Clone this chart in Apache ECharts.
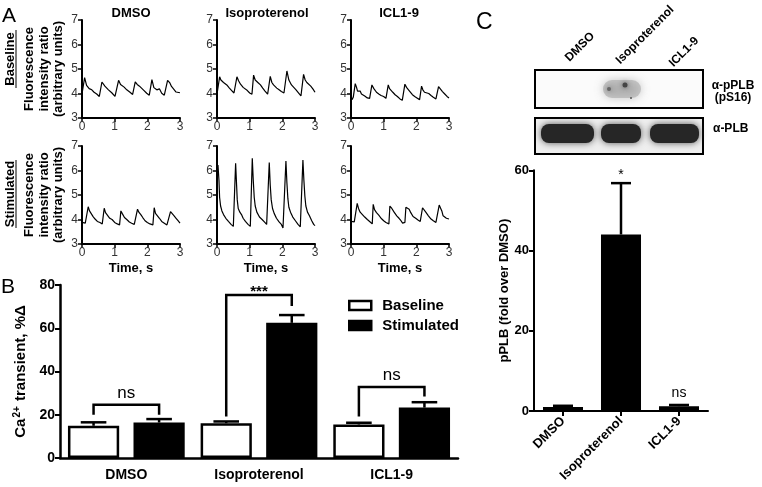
<!DOCTYPE html>
<html><head><meta charset="utf-8">
<script src="https://cdn.jsdelivr.net/npm/echarts@6/dist/echarts.min.js"></script>
<style>html,body{margin:0;padding:0;background:#fff}#c{width:762px;height:487px}</style>
</head><body><div id="c"></div>
<script>
// ---------- Panel A data: [time (s), fluorescence ratio] ----------
const traceTitles = ['DMSO', 'Isoproterenol', 'ICL1-9'];
const rowLabels = ['Baseline', 'Stimulated'];
const dmsoBaseline = [[0,3.98],[0.02,3.97],[0.08,4.65],[0.14,4.33],[0.22,4.2],[0.3,4.15],[0.37,4.05],[0.45,3.98],[0.53,3.88],[0.57,3.85],[0.61,4.47],[0.7,4.3],[0.81,4.15],[0.91,4.03],[1.01,3.88],[1.06,3.82],[1.12,4.54],[1.18,4.37],[1.29,4.26],[1.37,4.15],[1.47,4.05],[1.55,3.96],[1.59,3.92],[1.63,4.47],[1.69,4.37],[1.76,4.3],[1.82,4.32],[1.9,4.12],[1.98,4.01],[2.06,3.93],[2.1,3.92],[2.14,4.57],[2.2,4.24],[2.29,4.15],[2.37,4.19],[2.44,4.01],[2.52,3.93],[2.57,3.89],[2.62,4.54],[2.69,4.43],[2.74,4.29],[2.8,4.24],[2.88,4.06],[3.0,4.03]];
const isoBaseline = [[0,3.97],[0.04,3.95],[0.08,4.68],[0.12,4.55],[0.2,4.45],[0.3,4.35],[0.38,4.22],[0.45,4.12],[0.52,4.02],[0.57,3.98],[0.61,4.68],[0.66,4.52],[0.72,4.38],[0.8,4.25],[0.86,4.2],[0.93,4.12],[1.0,4.02],[1.07,3.97],[1.12,4.75],[1.17,4.55],[1.25,4.45],[1.33,4.35],[1.4,4.22],[1.47,4.1],[1.55,3.97],[1.6,3.95],[1.63,4.7],[1.68,4.45],[1.73,4.35],[1.77,4.4],[1.83,4.22],[1.9,4.15],[1.97,4.08],[2.05,4.02],[2.1,3.98],[2.14,4.92],[2.2,4.55],[2.28,4.35],[2.35,4.25],[2.42,4.15],[2.5,4.02],[2.57,3.9],[2.61,3.85],[2.65,4.78],[2.7,4.55],[2.75,4.45],[2.8,4.42],[2.87,4.3],[2.94,4.18],[3.0,4.05]];
const iclBaseline = [[0,3.95],[0.03,3.75],[0.07,3.85],[0.13,4.4],[0.17,4.25],[0.2,4.1],[0.24,4.05],[0.28,4.1],[0.32,3.98],[0.37,4.02],[0.42,3.9],[0.5,3.82],[0.57,3.8],[0.6,3.82],[0.64,4.35],[0.7,4.2],[0.78,4.05],[0.85,3.98],[0.92,3.92],[1.0,3.88],[1.07,3.8],[1.1,3.82],[1.14,4.35],[1.18,4.2],[1.22,4.22],[1.28,4.05],[1.35,3.95],[1.42,3.88],[1.5,3.78],[1.57,3.72],[1.61,3.75],[1.65,4.38],[1.7,4.25],[1.76,4.15],[1.82,4.08],[1.88,3.95],[1.95,3.88],[2.02,3.82],[2.1,3.75],[2.13,3.8],[2.16,4.3],[2.2,4.15],[2.25,4.05],[2.3,4.08],[2.38,4.0],[2.45,3.92],[2.52,3.85],[2.6,3.78],[2.64,3.8],[2.68,4.28],[2.73,4.2],[2.8,4.08],[2.87,3.98],[2.94,3.88],[3.0,3.82]];
const dmsoStim = [[0,3.88],[0.05,3.82],[0.1,3.85],[0.16,3.9],[0.19,4.52],[0.23,4.35],[0.28,4.28],[0.34,4.12],[0.4,4.02],[0.47,3.92],[0.55,3.88],[0.62,3.82],[0.65,3.8],[0.68,4.46],[0.72,4.28],[0.78,4.2],[0.85,4.05],[0.92,4.0],[1.0,3.88],[1.08,3.82],[1.15,3.78],[1.19,4.35],[1.23,4.25],[1.3,4.08],[1.37,4.0],[1.45,3.9],[1.52,3.85],[1.6,3.8],[1.66,3.78],[1.7,4.42],[1.74,4.3],[1.8,4.2],[1.86,4.08],[1.93,3.95],[2.0,3.88],[2.08,3.82],[2.14,3.75],[2.17,3.78],[2.21,4.48],[2.25,4.25],[2.3,4.2],[2.37,4.05],[2.44,3.92],[2.52,3.85],[2.6,3.78],[2.66,3.75],[2.71,4.32],[2.76,4.25],[2.82,4.15],[2.88,4.05],[2.94,3.95],[3.0,3.85]];
const isoStim = [[0,5.9],[0.03,6.22],[0.06,5.6],[0.08,4.9],[0.11,4.55],[0.15,4.35],[0.2,4.2],[0.27,4.05],[0.35,3.92],[0.43,3.8],[0.5,3.72],[0.54,3.72],[0.57,6.29],[0.6,5.4],[0.62,4.8],[0.65,4.45],[0.7,4.3],[0.75,4.2],[0.8,4.05],[0.87,3.92],[0.95,3.8],[1.02,3.72],[1.05,3.72],[1.08,6.5],[1.11,5.6],[1.14,4.9],[1.17,4.55],[1.22,4.3],[1.3,4.1],[1.38,4.0],[1.45,3.9],[1.52,3.8],[1.57,3.75],[1.6,6.33],[1.63,5.4],[1.66,4.8],[1.7,4.45],[1.75,4.25],[1.82,4.05],[1.9,3.9],[1.97,3.8],[2.02,3.65],[2.06,3.6],[2.08,3.68],[2.11,6.39],[2.14,5.5],[2.17,4.85],[2.2,4.5],[2.25,4.3],[2.32,4.1],[2.4,3.95],[2.48,3.8],[2.55,3.7],[2.6,3.68],[2.63,6.43],[2.66,5.6],[2.69,4.95],[2.72,4.55],[2.77,4.3],[2.83,4.15],[2.9,3.95],[2.96,3.8],[3.0,3.75]];
const iclStim = [[0,3.92],[0.05,3.88],[0.1,3.9],[0.15,3.92],[0.19,4.66],[0.23,4.45],[0.28,4.3],[0.35,4.2],[0.42,4.1],[0.5,4.0],[0.57,3.92],[0.62,3.85],[0.65,3.82],[0.68,4.62],[0.72,4.4],[0.78,4.28],[0.85,4.18],[0.92,4.05],[1.0,3.95],[1.07,3.88],[1.13,3.8],[1.16,3.82],[1.19,4.55],[1.25,4.45],[1.32,4.3],[1.4,4.15],[1.47,4.05],[1.53,3.95],[1.58,3.85],[1.62,3.82],[1.65,3.88],[1.68,4.5],[1.73,4.5],[1.78,4.42],[1.83,4.28],[1.9,4.12],[1.98,4.05],[2.05,3.98],[2.12,3.92],[2.16,3.9],[2.19,4.48],[2.24,4.4],[2.3,4.28],[2.37,4.15],[2.45,4.02],[2.52,3.95],[2.6,3.88],[2.66,3.86],[2.7,4.59],[2.74,4.52],[2.78,4.35],[2.82,4.15],[2.86,4.12],[2.92,4.05],[3.0,4.02]];

// ---------- Panel B data ----------
const groups = ['DMSO', 'Isoproterenol', 'ICL1-9'];
const baselineMean = [14.9, 16.1, 15.5];
const baselineErr = [1.6, 0.8, 0.8];
const stimMean = [16.4, 62.5, 23.3];
const stimErr = [1.6, 3.6, 2.5];
// [group, left leg bottom, right leg bottom, bracket top]
const brackets = [[0, 20, 20, 24.6], [1, 19.2, 70.3, 75.4], [2, 19.2, 28.4, 32.8]];
const bracketLabels = ['ns', '***', 'ns'];

// ---------- Panel C data ----------
const blotLanes = ['DMSO', 'Isoproterenol', 'ICL1-9'];
const blotRows = ['α-pPLB\n(pS16)', 'α-PLB'];
const pplbMean = [1.0, 44.0, 1.2];
const pplbErr = [0.3, 12.8, 0.3];
const pplbLabels = ['', '*', 'ns'];

const FONT = '"Liberation Sans", Arial, Helvetica, sans-serif';
const traces = [dmsoBaseline, isoBaseline, iclBaseline, dmsoStim, isoStim, iclStim];
const colLeft = [82, 217, 351], rowTop = [20, 146], P = 98;
const grid = [], xAxis = [], yAxis = [], series = [];

for (let r = 0; r < 2; r++) for (let c = 0; c < 3; c++) {
  const i = r * 3 + c;
  grid.push({left: colLeft[c], top: rowTop[r], width: P, height: P});
  xAxis.push({type: 'value', gridIndex: i, min: 0, max: 3, interval: 1,
    axisLine: {onZero: false, lineStyle: {color: '#000', width: 2}},
    axisTick: {length: 4, lineStyle: {color: '#000', width: 1.5}},
    axisLabel: {fontFamily: FONT, fontSize: 12, color: '#333', margin: 3},
    splitLine: {show: false},
    name: r === 1 ? 'Time, s' : '', nameLocation: 'middle', nameGap: 18,
    nameTextStyle: {fontFamily: FONT, fontSize: 13, fontWeight: 'bold', color: '#000'}});
  yAxis.push({type: 'value', gridIndex: i, min: 3, max: 7, interval: 1,
    axisLine: {show: true, onZero: false, lineStyle: {color: '#000', width: 2}},
    axisTick: {show: true, length: 4, lineStyle: {color: '#000', width: 1.5}},
    axisLabel: {fontFamily: FONT, fontSize: 12, color: '#333', margin: 4},
    splitLine: {show: false},
    name: c === 0 ? 'Fluorescence\nintensity ratio\n(arbitrary units)' : '',
    nameLocation: 'middle', nameRotate: 90, nameGap: 16,
    nameTextStyle: {fontFamily: FONT, fontSize: 13, fontWeight: 'bold', lineHeight: 14.5, color: '#000'}});
  series.push({type: 'line', name: traceTitles[c] + ' ' + rowLabels[r], xAxisIndex: i, yAxisIndex: i,
    data: traces[i], showSymbol: false, silent: true,
    lineStyle: {color: '#000', width: 1.2}});
}

// Panel B
const CG = 0.12, BG = 0.28;
grid.push({left: 60, top: 285, width: 398, height: 173});
xAxis.push({type: 'category', gridIndex: 6, data: groups,
  axisTick: {show: false},
  axisLine: {lineStyle: {color: '#000', width: 2.5}},
  axisLabel: {fontFamily: FONT, fontSize: 14, fontWeight: 'bold', color: '#000', margin: 10}});
yAxis.push({type: 'value', gridIndex: 6, min: 0, max: 80, interval: 20,
  axisLine: {show: true, lineStyle: {color: '#000', width: 2.5}},
  axisTick: {show: true, length: 5, lineStyle: {color: '#000', width: 2}},
  axisLabel: {fontFamily: FONT, fontSize: 14, fontWeight: 'bold', color: '#000', margin: 5},
  splitLine: {show: false},
  name: 'Ca{sup|2+} transient, %Δ', nameLocation: 'middle', nameRotate: 90, nameGap: 29,
  nameTextStyle: {fontFamily: FONT, fontSize: 15, fontWeight: 'bold', color: '#000',
    rich: {sup: {fontFamily: FONT, fontSize: 10, fontWeight: 'bold', color: '#000', padding: [0, 1, 7, 1]}}}});
series.push({type: 'bar', name: 'Baseline', xAxisIndex: 6, yAxisIndex: 6, data: baselineMean,
  barGap: (BG * 100) + '%', barCategoryGap: (CG * 100) + '%',
  itemStyle: {color: '#fff', borderColor: '#000', borderWidth: 2.5}});
series.push({type: 'bar', name: 'Stimulated', xAxisIndex: 6, yAxisIndex: 6, data: stimMean,
  barGap: (BG * 100) + '%', barCategoryGap: (CG * 100) + '%',
  itemStyle: {color: '#000', borderColor: '#000', borderWidth: 2.5}});

const errB = [];
groups.forEach((g, k) => { errB.push([k, 0, baselineMean[k], baselineErr[k]]); errB.push([k, 1, stimMean[k], stimErr[k]]); });
function barOffset(api, g, v, s) {
  const band = api.size([1, 0], [g, v])[0];
  const bw = band * (1 - CG) / (2 + BG);
  return {off: (s === 0 ? -1 : 1) * bw * (1 + BG) / 2, bw: bw};
}
series.push({type: 'custom', name: 'errB', xAxisIndex: 6, yAxisIndex: 6, data: errB, z: 5, silent: true,
  encode: {x: 0, y: 2},
  renderItem: function (params, api) {
    const g = api.value(0), s = api.value(1), m = api.value(2), e = api.value(3);
    const o = barOffset(api, g, m, s);
    const p0 = api.coord([g, m]), p1 = api.coord([g, m + e]);
    const x = p0[0] + o.off, hw = o.bw * 0.25;
    return {type: 'group', children: [
      {type: 'line', shape: {x1: x, y1: p0[1], x2: x, y2: p1[1]}, style: {stroke: '#000', lineWidth: 2.5}},
      {type: 'line', shape: {x1: x - hw, y1: p1[1], x2: x + hw, y2: p1[1]}, style: {stroke: '#000', lineWidth: 2.5}}
    ]};
  }});
series.push({type: 'custom', name: 'brackets', xAxisIndex: 6, yAxisIndex: 6, data: brackets, z: 6, silent: true,
  encode: {x: 0, y: 3},
  renderItem: function (params, api) {
    const g = api.value(0), lb = api.value(1), rb = api.value(2), top = api.value(3);
    const oL = barOffset(api, g, top, 0), oR = barOffset(api, g, top, 1);
    const c = api.coord([g, top]);
    const xl = c[0] + oL.off, xr = c[0] + oR.off;
    const yl = api.coord([g, lb])[1], yr = api.coord([g, rb])[1], yt = c[1];
    const lab = bracketLabels[params.dataIndex];
    const star = lab.indexOf('*') >= 0;
    return {type: 'group', children: [
      {type: 'polyline', shape: {points: [[xl, yl], [xl, yt], [xr, yt], [xr, yr]]}, style: {stroke: '#000', lineWidth: 2.5, fill: null}},
      {type: 'text', style: {text: lab, x: (xl + xr) / 2, y: star ? yt - 11 : yt - 3,
        align: 'center', verticalAlign: star ? 'top' : 'bottom',
        font: (star ? 'bold 15px ' : '17px ') + FONT, fill: '#000'}}
    ]};
  }});

// Panel C
grid.push({left: 534, top: 170.3, width: 174, height: 240.7});
xAxis.push({type: 'category', gridIndex: 7, data: blotLanes,
  axisTick: {show: true, alignWithLabel: true, length: 5, lineStyle: {color: '#000', width: 2}},
  axisLine: {lineStyle: {color: '#000', width: 2}},
  axisLabel: {fontFamily: FONT, fontSize: 13, fontWeight: 'bold', color: '#000', rotate: 45, margin: 8}});
yAxis.push({type: 'value', gridIndex: 7, min: 0, max: 60, interval: 20,
  axisLine: {show: true, lineStyle: {color: '#000', width: 2}},
  axisTick: {show: true, length: 5, lineStyle: {color: '#000', width: 2}},
  axisLabel: {fontFamily: FONT, fontSize: 13, fontWeight: 'bold', color: '#000', margin: 5},
  splitLine: {show: false},
  name: 'pPLB (fold over DMSO)', nameLocation: 'middle', nameRotate: 90, nameGap: 22,
  nameTextStyle: {fontFamily: FONT, fontSize: 13, fontWeight: 'bold', color: '#000'}});
series.push({type: 'bar', name: 'pPLB', xAxisIndex: 7, yAxisIndex: 7, data: pplbMean, barCategoryGap: '31%',
  itemStyle: {color: '#000', borderColor: '#000', borderWidth: 1.5}});
series.push({type: 'custom', name: 'errC', xAxisIndex: 7, yAxisIndex: 7, z: 5, silent: true,
  data: pplbMean.map((m, k) => [k, m, pplbErr[k]]), encode: {x: 0, y: 1},
  renderItem: function (params, api) {
    const g = api.value(0), m = api.value(1), e = api.value(2);
    const p0 = api.coord([g, m]), p1 = api.coord([g, m + e]);
    const lab = pplbLabels[params.dataIndex];
    const star = lab.indexOf('*') >= 0;
    return {type: 'group', children: [
      {type: 'line', shape: {x1: p0[0], y1: p0[1], x2: p1[0], y2: p1[1]}, style: {stroke: '#000', lineWidth: 2.5}},
      {type: 'line', shape: {x1: p1[0] - 10, y1: p1[1], x2: p1[0] + 10, y2: p1[1]}, style: {stroke: '#000', lineWidth: 2.5}},
      {type: 'text', style: {text: lab, x: p1[0], y: star ? p1[1] - 15 : p1[1] - 5, align: 'center',
        verticalAlign: star ? 'top' : 'bottom', font: '14px ' + FONT, fill: '#000'}}
    ]};
  }});

function txt(t, x, y, font, rot, align, va) {
  return {type: 'text', x: x, y: y, rotation: rot || 0, silent: true,
    style: {text: t, x: 0, y: 0, font: font, fill: '#000', align: align || 'center', verticalAlign: va || 'middle'}};
}
const graphic = [
  txt('A', 2, 16, '21px ' + FONT, 0, 'left'),
  txt('B', 1, 287, '21px ' + FONT, 0, 'left'),
  txt('C', 476, 23, '23px ' + FONT, 0, 'left'),
  txt(traceTitles[0], 131, 13, 'bold 13px ' + FONT),
  txt(traceTitles[1], 267, 13, 'bold 13px ' + FONT),
  txt(traceTitles[2], 399, 13, 'bold 13px ' + FONT),
  txt(rowLabels[0], 10.5, 59, 'bold 13px ' + FONT, Math.PI / 2),
  {type: 'line', silent: true, shape: {x1: 16, y1: 30, x2: 16, y2: 88}, style: {stroke: '#000', lineWidth: 1}},
  txt(rowLabels[1], 10.5, 194, 'bold 13px ' + FONT, Math.PI / 2),
  {type: 'line', silent: true, shape: {x1: 16, y1: 160, x2: 16, y2: 228}, style: {stroke: '#000', lineWidth: 1}},
  // blot frames and bands
  {type: 'rect', silent: true, shape: {x: 535, y: 70, width: 168, height: 38}, style: {fill: '#fbfbfb', stroke: '#000', lineWidth: 2}},
  {type: 'rect', silent: true, shape: {x: 603, y: 80, width: 38, height: 18, r: 9}, style: {fill: 'rgba(150,150,150,0.45)', shadowBlur: 10, shadowColor: 'rgba(120,120,120,0.9)'}},
  {type: 'circle', silent: true, shape: {cx: 625, cy: 85, r: 2.5}, style: {fill: '#444', shadowBlur: 5, shadowColor: '#444'}},
  {type: 'circle', silent: true, shape: {cx: 609, cy: 89, r: 2}, style: {fill: '#666', shadowBlur: 5, shadowColor: '#666'}},
  {type: 'circle', silent: true, shape: {cx: 631, cy: 98, r: 1}, style: {fill: '#555'}},
  {type: 'rect', silent: true, shape: {x: 535, y: 118, width: 168, height: 36}, style: {fill: '#efefef', stroke: '#000', lineWidth: 2}},
  {type: 'rect', silent: true, shape: {x: 541, y: 124, width: 53, height: 19, r: 8}, style: {fill: '#262626', shadowBlur: 7, shadowColor: '#555'}},
  {type: 'rect', silent: true, shape: {x: 601, y: 124, width: 40, height: 19, r: 8}, style: {fill: '#262626', shadowBlur: 7, shadowColor: '#555'}},
  {type: 'rect', silent: true, shape: {x: 650, y: 124, width: 49, height: 19, r: 8}, style: {fill: '#262626', shadowBlur: 7, shadowColor: '#555'}},
  txt(blotLanes[0], 580, 47, 'bold 12px ' + FONT, Math.PI / 4),
  txt(blotLanes[1], 645, 35, 'bold 12px ' + FONT, Math.PI / 4),
  txt(blotLanes[2], 684, 52, 'bold 12px ' + FONT, Math.PI / 4),
  txt(blotRows[0], 733, 92, 'bold 12px ' + FONT, 0, 'center'),
  txt(blotRows[1], 713, 129, 'bold 12px ' + FONT, 0, 'left')
];

const chart = echarts.init(document.getElementById('c'), null, {renderer: 'canvas'});
chart.setOption({
  animation: false,
  backgroundColor: '#fff',
  textStyle: {fontFamily: FONT},
  grid: grid, xAxis: xAxis, yAxis: yAxis, series: series,
  legend: {left: 343, top: 293, orient: 'vertical', itemWidth: 22, itemHeight: 9, itemGap: 5, icon: 'rect',
    selectedMode: false,
    textStyle: {fontFamily: FONT, fontSize: 15, fontWeight: 'bold', color: '#000', padding: [0, 0, 0, 6]},
    data: [{name: 'Baseline', itemStyle: {color: '#fff', borderColor: '#000', borderWidth: 2.5}},
           {name: 'Stimulated', itemStyle: {color: '#000', borderColor: '#000', borderWidth: 2.5}}]},
  graphic: graphic
});
</script></body></html>
